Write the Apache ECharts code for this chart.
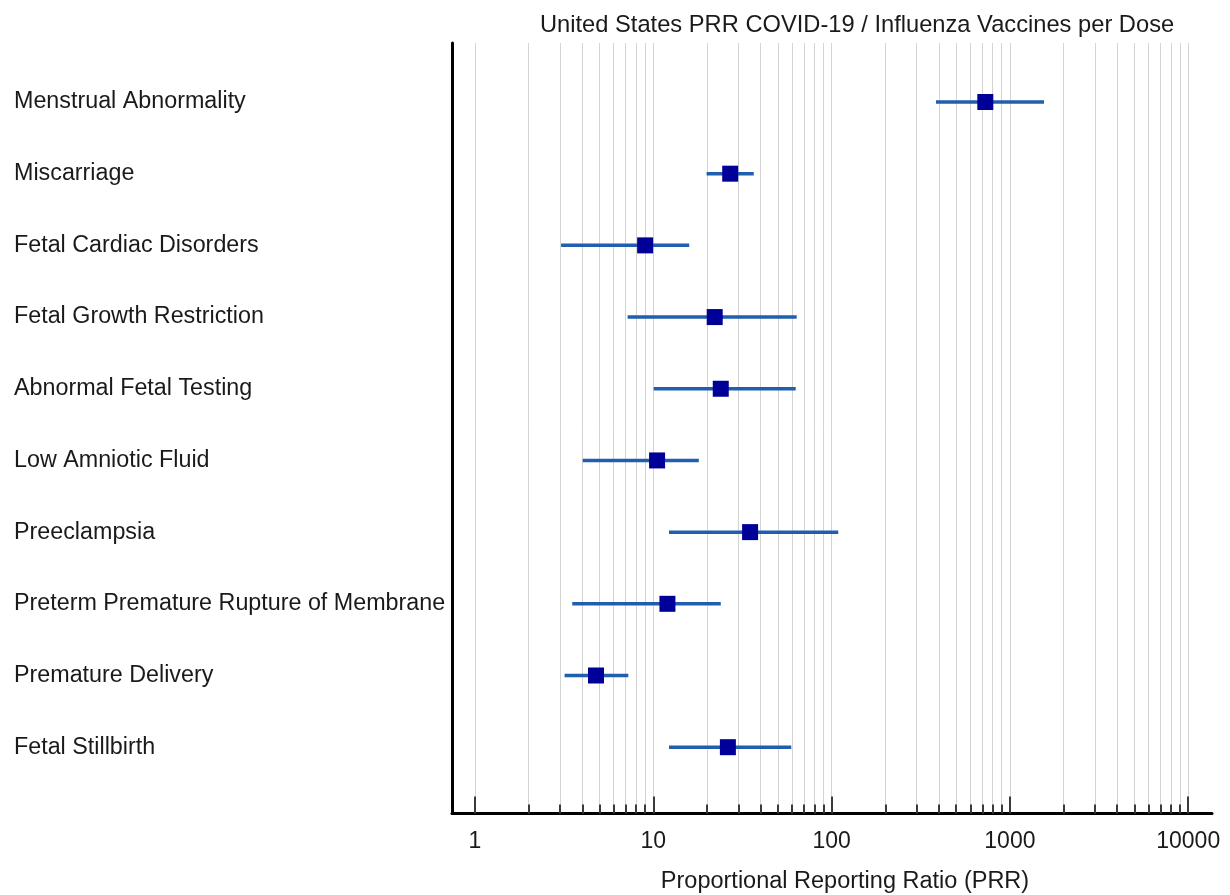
<!DOCTYPE html>
<html>
<head>
<meta charset="utf-8">
<script src="https://cdn.jsdelivr.net/npm/echarts@6/dist/echarts.min.js"></script>
<style>
html,body{margin:0;padding:0;background:#fff;}
#chart{width:1230px;height:895px;}
</style>
</head>
<body>
<div id="chart"></div>
<script>
// ---- data ----
const categories = [
  'Menstrual Abnormality',
  'Miscarriage',
  'Fetal Cardiac Disorders',
  'Fetal Growth Restriction',
  'Abnormal Fetal Testing',
  'Low Amniotic Fluid',
  'Preeclampsia',
  'Preterm Premature Rupture of Membrane',
  'Premature Delivery',
  'Fetal Stillbirth'
];
const prr   = [728, 27.0, 9.0, 22.1, 23.9, 10.5, 34.9, 12.0, 4.77, 26.2];
const lower = [385, 19.9, 3.04, 7.18, 10.05, 4.02, 12.25, 3.51, 3.18, 12.25];
const upper = [1553, 36.6, 15.9, 63.7, 62.9, 18.0, 109, 23.9, 7.24, 59.4];
const majorTicks = [1, 10, 100, 1000, 10000];
const minorTicks = [];
[1, 10, 100, 1000].forEach(function (d) {
  for (let k = 2; k <= 9; k++) minorTicks.push(k * d);
});
const titleText = 'United States PRR COVID-19 / Influenza Vaccines per Dose';
const xName = 'Proportional Reporting Ratio (PRR)';

// ---- chart ----
const FONT = '"Liberation Sans", Arial, Helvetica, sans-serif';
const TXT = '#1a1a1a';
const xMin = 0.743, xMax = 13600;
const chart = echarts.init(document.getElementById('chart'), null, {renderer: 'canvas'});

const barData = categories.map(function (c, i) { return [lower[i], upper[i], i]; });
const pointData = categories.map(function (c, i) { return [prr[i], i]; });
const idx = categories.map(function (c, i) { return i; });

chart.setOption({
  animation: false,
  backgroundColor: '#fff',
  title: {
    text: titleText,
    left: 535,
    top: 8,
    textStyle: {fontFamily: FONT, fontSize: 23.7, fontWeight: 'normal', color: TXT}
  },
  grid: {left: 452, right: 18, top: 43, bottom: 81.5, containLabel: false, outerBoundsMode: 'none'},
  xAxis: [
    {
      type: 'log', logBase: 10, min: xMin, max: xMax, position: 'bottom',
      axisLine: {show: true, onZero: false, lineStyle: {color: '#000', width: 3}},
      axisTick: {show: true, inside: true, length: 17, customValues: majorTicks,
                 lineStyle: {color: '#3a3a3a', width: 2}},
      axisLabel: {show: true, customValues: majorTicks, margin: 17,
                  fontFamily: FONT, fontSize: 23, color: TXT,
                  formatter: function (v) { return String(Math.round(v)); }},
      splitLine: {show: true, lineStyle: {color: '#d3d3d3', width: 1}},
      minorTick: {show: false}, minorSplitLine: {show: false},
      name: xName, nameLocation: 'middle', nameGap: 56,
      nameTextStyle: {fontFamily: FONT, fontSize: 23.5, color: TXT, padding: [0, 0, 0, 26]}
    },
    {
      type: 'log', logBase: 10, min: xMin, max: xMax, position: 'bottom', offset: 0,
      axisLine: {show: false, onZero: false},
      axisTick: {show: true, inside: true, length: 9, customValues: minorTicks,
                 lineStyle: {color: '#3a3a3a', width: 2}},
      axisLabel: {show: false},
      splitLine: {show: true, lineStyle: {color: '#d3d3d3', width: 1}}
    }
  ],
  yAxis: {
    type: 'value', inverse: true, min: -0.823, max: 9.925,
    axisLine: {show: true, onZero: false, lineStyle: {color: '#000', width: 3}},
    axisTick: {show: false},
    splitLine: {show: false},
    axisLabel: {
      show: true, customValues: idx, align: 'left', margin: 438,
      fontFamily: FONT, fontSize: 23.3, color: TXT, padding: [8, 0, 0, 0],
      formatter: function (v) { return categories[Math.round(v)] || ''; }
    }
  },
  series: [
    {
      type: 'custom',
      xAxisIndex: 0, yAxisIndex: 0,
      data: barData,
      encode: {x: [0, 1], y: 2},
      renderItem: function (params, api) {
        const a = api.coord([api.value(0), api.value(2)]);
        const b = api.coord([api.value(1), api.value(2)]);
        return {
          type: 'line',
          shape: {x1: a[0], y1: a[1], x2: b[0], y2: b[1]},
          style: {stroke: '#1f5fae', lineWidth: 3.5}
        };
      },
      z: 3
    },
    {
      type: 'scatter',
      xAxisIndex: 0, yAxisIndex: 0,
      data: pointData,
      symbol: 'rect', symbolSize: 16,
      itemStyle: {color: '#000099', opacity: 1},
      z: 4
    }
  ]
});
</script>
</body>
</html>
